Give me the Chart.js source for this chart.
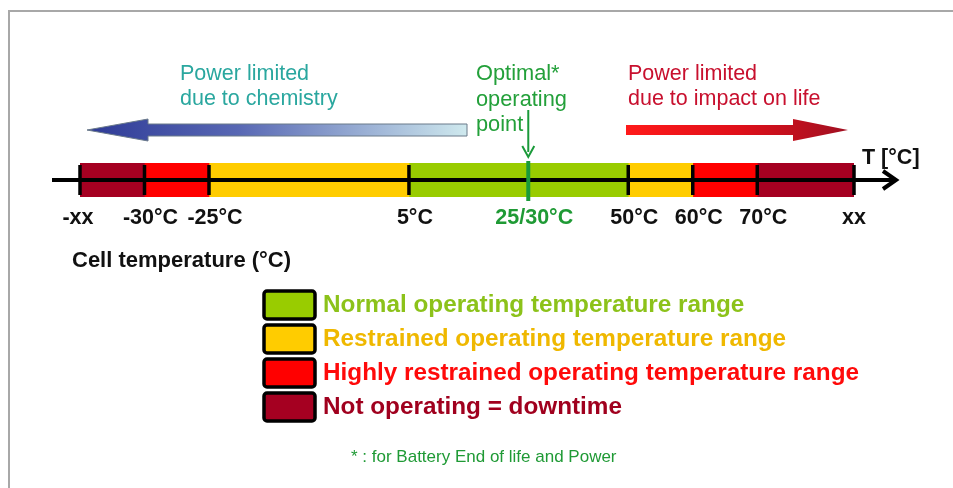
<!DOCTYPE html>
<html>
<head>
<meta charset="utf-8">
<script src="https://cdn.jsdelivr.net/npm/chart.js@4.4.1/dist/chart.umd.min.js"></script>
<style>
  html, body { margin: 0; padding: 0; background: #fff; }
  #wrap { width: 953px; height: 488px; position: relative; }
</style>
</head>
<body>
<div id="wrap"><canvas id="band"></canvas></div>
<script>
// tick labels along the temperature line and where they sit (diagram units, not to scale)
const tickLabels = ["-xx", "-30°C", "-25°C", "5°C", "25/30°C", "50°C", "60°C", "70°C", "xx"]
const tickPos = [0, 1, 2, 5.1, 6.95, 8.5, 9.5, 10.5, 12]
const optimalTick = 4

// band segments: [from tick, to tick] and which zone they are
const segFrom = [0, 1, 2, 3, 5, 6, 7]
const segTo = [1, 2, 3, 5, 6, 7, 8]
const segZone = [3, 2, 1, 0, 1, 2, 3]

// legend zones
const zoneNames = [
    "Normal operating temperature range",
    "Restrained operating temperature range",
    "Highly restrained operating temperature range",
    "Not operating = downtime"
]
const zoneColors = ["#99cc00", "#ffcc00", "#ff0000", "#a50021"]
const zoneTextColors = ["#8cc21a", "#efb800", "#ff0a0a", "#a0001e"]

const leftNote = ["Power limited", "due to chemistry"]
const midNote = ["Optimal*", "operating", "point"]
const rightNote = ["Power limited", "due to impact on life"]

let datasets = segFrom.map((f, i) => ({
    label: zoneNames[segZone[i]],
    data: [[tickPos[f], tickPos[segTo[i]]]],
    backgroundColor: zoneColors[segZone[i]],
    borderWidth: 0,
    grouped: false,
    barPercentage: 1,
    categoryPercentage: 1
}))

const FONT = "'Liberation Sans', Arial, sans-serif"

function drawLines(ctx, lines, x, y0, step, color, font) {
    ctx.fillStyle = color
    ctx.font = font
    ctx.textAlign = "left"
    ctx.textBaseline = "middle"
    lines.forEach((t, i) => ctx.fillText(t, x, y0 + i * step))
}

const decor = {
    id: "decor",
    afterDraw(chart) {
        const ctx = chart.ctx
        const xs = chart.scales.x
        const area = chart.chartArea
        const axisY = (area.top + area.bottom) / 2
        ctx.save()

        // frame
        ctx.strokeStyle = "#a8a8a8"
        ctx.lineWidth = 2
        ctx.beginPath()
        ctx.moveTo(9, 488)
        ctx.lineTo(9, 11)
        ctx.lineTo(953, 11)
        ctx.stroke()

        // axis line + arrow
        let x0 = xs.getPixelForValue(tickPos[0]) - 28
        let x1 = xs.getPixelForValue(tickPos[tickPos.length - 1]) + 42
        ctx.strokeStyle = "#000"
        ctx.lineWidth = 4
        ctx.beginPath()
        ctx.moveTo(x0, axisY)
        ctx.lineTo(x1, axisY)
        ctx.stroke()
        ctx.beginPath()
        ctx.moveTo(x1 - 13, axisY - 9)
        ctx.lineTo(x1, axisY)
        ctx.lineTo(x1 - 13, axisY + 9)
        ctx.stroke()

        // ticks and labels
        tickPos.forEach((v, i) => {
            let px = xs.getPixelForValue(v)
            let opt = i === optimalTick
            ctx.strokeStyle = opt ? "#1a9a3a" : "#000"
            ctx.lineWidth = opt ? 4 : 3.5
            ctx.beginPath()
            ctx.moveTo(px, opt ? area.top - 2 : area.top + 2)
            ctx.lineTo(px, opt ? area.bottom + 4 : area.bottom - 2)
            ctx.stroke()

            let lbl = tickLabels[i]
            let shift = lbl.indexOf("°") >= 0 ? 6 : -2
            if (i === tickPos.length - 1) shift = 0
            ctx.fillStyle = opt ? "#1f9a35" : "#111"
            ctx.font = "bold 21.5px " + FONT
            ctx.textAlign = "center"
            ctx.textBaseline = "middle"
            ctx.fillText(lbl, px + shift, area.bottom + 21)
        })

        ctx.fillStyle = "#111"
        ctx.font = "bold 21.5px " + FONT
        ctx.textAlign = "left"
        ctx.textBaseline = "middle"
        ctx.fillText("T [°C]", 862, 158)
        ctx.font = "bold 22px " + FONT
        ctx.fillText("Cell temperature (°C)", 72, 261)

        // notes above the line
        drawLines(ctx, leftNote, 180, 74, 25, "#2aa79f", "21.5px " + FONT)
        drawLines(ctx, midNote, 476, 74, 25.5, "#23a03a", "21.8px " + FONT)
        drawLines(ctx, rightNote, 628, 74, 25, "#c8102e", "21.5px " + FONT)

        // left (blue) arrow
        let g = ctx.createLinearGradient(87, 0, 467, 0)
        g.addColorStop(0, "#2e3a96")
        g.addColorStop(0.4, "#5868b4")
        g.addColorStop(1, "#cfe9ee")
        ctx.fillStyle = g
        ctx.strokeStyle = "#6a7a8a"
        ctx.lineWidth = 1
        ctx.beginPath()
        ctx.moveTo(87, 130)
        ctx.lineTo(148, 119)
        ctx.lineTo(148, 124)
        ctx.lineTo(467, 124)
        ctx.lineTo(467, 136)
        ctx.lineTo(148, 136)
        ctx.lineTo(148, 141)
        ctx.closePath()
        ctx.fill()
        ctx.stroke()

        // right (red) arrow
        let g2 = ctx.createLinearGradient(626, 0, 848, 0)
        g2.addColorStop(0, "#ff1a1a")
        g2.addColorStop(0.5, "#e0101a")
        g2.addColorStop(1, "#a01022")
        ctx.fillStyle = g2
        ctx.beginPath()
        ctx.moveTo(626, 125)
        ctx.lineTo(793, 125)
        ctx.lineTo(793, 119)
        ctx.lineTo(848, 130)
        ctx.lineTo(793, 141)
        ctx.lineTo(793, 135)
        ctx.lineTo(626, 135)
        ctx.closePath()
        ctx.fill()

        // optimal point arrow
        let ox = xs.getPixelForValue(tickPos[optimalTick])
        ctx.strokeStyle = "#1a9a3a"
        ctx.lineWidth = 2
        ctx.beginPath()
        ctx.moveTo(ox, 110)
        ctx.lineTo(ox, 152)
        ctx.stroke()
        ctx.lineWidth = 2
        ctx.beginPath()
        ctx.moveTo(ox - 6, 146)
        ctx.lineTo(ox, 157)
        ctx.lineTo(ox + 6, 146)
        ctx.stroke()

        // legend
        zoneNames.forEach((name, i) => {
            let y = 290 + i * 34
            ctx.fillStyle = zoneColors[i]
            ctx.strokeStyle = "#000"
            ctx.lineWidth = 3.5
            ctx.beginPath()
            ctx.roundRect(264, y + 1, 51, 28, 3)
            ctx.fill()
            ctx.stroke()
            ctx.fillStyle = zoneTextColors[i]
            ctx.font = "bold 24.3px " + FONT
            ctx.textAlign = "left"
            ctx.textBaseline = "middle"
            ctx.fillText(name, 323, y + 15)
        })

        ctx.fillStyle = "#1f9a35"
        ctx.font = "17px " + FONT
        ctx.fillText("* : for Battery End of life and Power", 351, 457)

        ctx.restore()
    }
}

new Chart(document.getElementById("band"), {
    type: "bar",
    data: { labels: [""], datasets: datasets },
    options: {
        indexAxis: "y",
        responsive: true,
        maintainAspectRatio: false,
        animation: false,
        layout: { padding: { left: 80, right: 99, top: 163, bottom: 291 } },
        scales: {
            x: { type: "linear", min: tickPos[0], max: tickPos[tickPos.length - 1], display: false },
            y: { display: false }
        },
        plugins: {
            legend: { display: false },
            tooltip: { enabled: false }
        }
    },
    plugins: [decor]
})
</script>
</body>
</html>
